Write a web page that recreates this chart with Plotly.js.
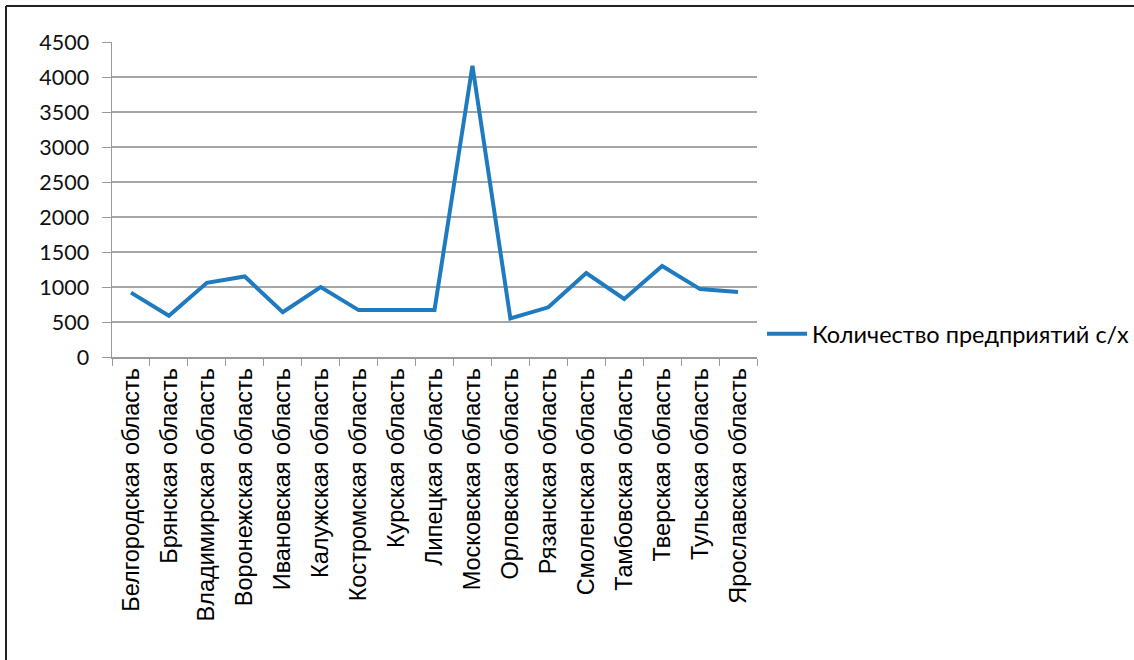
<!DOCTYPE html>
<html>
<head>
<meta charset="utf-8">
<script src="https://cdn.plot.ly/plotly-3.0.1.min.js"></script>
<style>html,body{margin:0;padding:0;background:#fff;}#chart{width:1134px;height:660px;}</style>
</head>
<body>
<div id="chart"></div>
<script>
const regions = ["Белгородская область","Брянская область","Владимирская область","Воронежская область","Ивановская область","Калужская область","Костромская область","Курская область","Липецкая область","Московская область","Орловская область","Рязанская область","Смоленская область","Тамбовская область","Тверская область","Тульская область","Ярославская область"];
const enterprises = [920, 590, 1060, 1150, 640, 1000, 670, 670, 670, 4160, 550, 710, 1200, 830, 1300, 970, 930];
const seriesName = "Количество предприятий с/х";
const yTicks = [0, 500, 1000, 1500, 2000, 2500, 3000, 3500, 4000, 4500];

const L = 112, R = 757, T = 42, B = 357, W = 1134, H = 660;
const px = v => (v - L) / (R - L);
const py = v => (B - v) / (B - T);

const trace = {
  type: 'scatter', mode: 'lines', x: regions, y: enterprises, name: seriesName,
  line: {color: '#1f7bc0', width: 4}, showlegend: true
};
const layout = {
  width: W, height: H,
  margin: {l: L, r: W - R, t: T, b: H - B, pad: 0},
  paper_bgcolor: '#fff', plot_bgcolor: '#fff',
  showlegend: true,
  legend: {xref: 'container', yref: 'container', x: 762 / W, xanchor: 'left', y: (H - 334) / H, yanchor: 'middle',
    font: {family: 'Lato, sans-serif', size: 23.5, color: '#000'}, itemwidth: 40, bgcolor: 'rgba(0,0,0,0)'},
  xaxis: {type: 'category', tickangle: -90, tickfont: {family: 'Liberation Sans, Arial, sans-serif', size: 23.5, color: '#000'},
    showgrid: false, showline: true, linecolor: '#9a9a9a', linewidth: 1.5, ticks: 'outside', tickson: 'boundaries', ticklen: 7, tickcolor: '#9a9a9a', range: [-0.5, 16.5], zeroline: false},
  yaxis: {range: [0, 4500], tickvals: yTicks, ticktext: yTicks.map(String), tickfont: {family: 'Lato, sans-serif', size: 21.5, color: '#111'},
    ticklabelstandoff: 8,
    showgrid: true, gridcolor: '#a6a6a6', gridwidth: 1.3, showline: true, linecolor: '#9a9a9a', linewidth: 1.5, ticks: 'outside', ticklen: 9, tickcolor: '#9a9a9a', zeroline: false},
  shapes: [
    {type: 'line', xref: 'paper', yref: 'paper', x0: px(6), x1: px(1134), y0: py(6), y1: py(6), line: {color: '#222', width: 2}},
    {type: 'line', xref: 'paper', yref: 'paper', x0: px(6), x1: px(6), y0: py(6), y1: py(660), line: {color: '#222', width: 2}}
  ]
};
Plotly.newPlot('chart', [trace], layout, {displayModeBar: false, staticPlot: true});
</script>
</body>
</html>
